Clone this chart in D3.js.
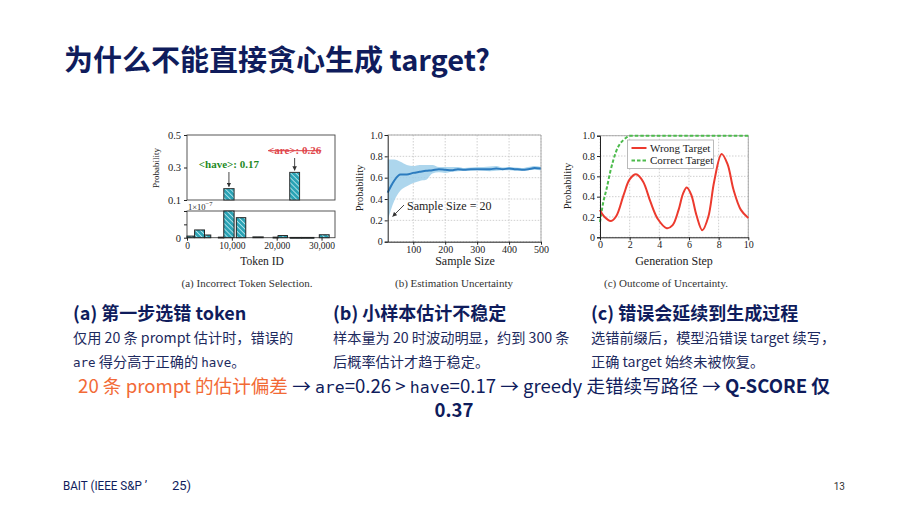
<!DOCTYPE html>
<html>
<head>
    <title>为什么不能直接贪心生成 target?</title>
    <script src="https://d3js.org/d3.v7.min.js"></script>
    <style>
        html, body { margin: 0; padding: 0; background: #fff; }
        svg { display: block; }
        .serif { font-family: "Liberation Serif", "DejaVu Serif", serif; }
    </style>
</head>
<body>
    <svg id="slide"></svg>
    <script>
        // ---- data ----
        // (a) token histogram, top panel (probability) and bottom panel (x 1e-7)
        const topBarStart = [8200, 22900];
        const topBarEnd = [10500, 25100];
        const topBarValue = [0.17, 0.27];
        const topTicks = [0.1, 0.3, 0.5];

        const lowBarStart = [0, 1700, 3900, 7000, 8200, 11000, 14700, 19200, 20300, 23000, 25600, 29500];
        const lowBarEnd = [1600, 3900, 5300, 8200, 10500, 13100, 17000, 20300, 22400, 25500, 28300, 31700];
        const lowBarValue = [0.06, 0.29, 0.10, 0.02, 1.0, 0.75, 0.03, 0.02, 0.08, 0.01, 0.01, 0.11];
        const tokenTicks = [0, 10000, 20000, 30000];

        // (b) estimation uncertainty
        const sampleSizes = [20, 40, 60, 80, 100, 120, 140, 160, 180, 200, 220, 240, 260, 280, 300, 320, 340, 360, 380, 400, 420, 440, 460, 480, 500];
        const meanProb = [0.46, 0.57, 0.63, 0.63, 0.645, 0.655, 0.665, 0.67, 0.68, 0.675, 0.67, 0.68, 0.675, 0.68, 0.68, 0.68, 0.68, 0.685, 0.68, 0.685, 0.68, 0.675, 0.68, 0.69, 0.685];
        const bandUpper = [0.77, 0.77, 0.75, 0.72, 0.71, 0.72, 0.72, 0.72, 0.70, 0.70, 0.70, 0.70, 0.69, 0.695, 0.70, 0.70, 0.705, 0.71, 0.695, 0.70, 0.695, 0.69, 0.70, 0.71, 0.70];
        const bandLower = [0.20, 0.38, 0.48, 0.52, 0.55, 0.57, 0.58, 0.64, 0.65, 0.645, 0.655, 0.66, 0.665, 0.665, 0.67, 0.665, 0.66, 0.665, 0.67, 0.67, 0.665, 0.665, 0.67, 0.675, 0.67];
        const sampleTicks = [100, 200, 300, 400, 500];
        const probTicksB = [0, 0.2, 0.4, 0.6, 0.8, 1.0];

        // (c) outcome of uncertainty
        const wrongSteps = [0, 0.25, 0.74, 1.1, 1.6, 2.0, 2.43, 2.9, 3.4, 3.9, 4.5, 4.9, 5.3, 5.6, 5.85, 6.15, 6.5, 6.9, 7.3, 7.7, 8.2, 8.6, 9.0, 9.5, 10];
        const wrongProb = [0.27, 0.21, 0.16, 0.21, 0.42, 0.57, 0.62, 0.55, 0.35, 0.18, 0.09, 0.12, 0.27, 0.43, 0.49, 0.42, 0.22, 0.07, 0.2, 0.55, 0.82, 0.72, 0.47, 0.27, 0.19];
        const correctSteps = [0, 0.2, 0.45, 0.7, 0.9, 1.1, 1.35, 1.6, 1.8, 2.0, 3, 4, 5, 6, 7, 8, 9, 10];
        const correctProb = [0.15, 0.33, 0.48, 0.65, 0.76, 0.85, 0.92, 0.96, 0.985, 1, 1, 1, 1, 1, 1, 1, 1, 1];
        const stepTicks = [0, 2, 4, 6, 8, 10];
        const probTicksC = [0, 0.2, 0.4, 0.6, 0.8, 1.0];
        const legendLabels = ["Wrong Target", "Correct Target"];

        const W = 908, H = 511;
        const navy = "#0f1c5c";
        const svg = d3.select("#slide").attr("width", W).attr("height", H)
            .attr("viewBox", [0, 0, W, H]);

        const defs = svg.append("defs");
        const pat = defs.append("pattern").attr("id", "hatch")
            .attr("width", 3.6).attr("height", 3.6)
            .attr("patternUnits", "userSpaceOnUse")
            .attr("patternTransform", "rotate(-45)");
        pat.append("rect").attr("width", 3.6).attr("height", 3.6).attr("fill", "#2aa3b5");
        pat.append("line").attr("x1", 0).attr("y1", 0).attr("x2", 0).attr("y2", 3.6)
            .attr("stroke", "#e8fbff").attr("stroke-width", 1.3);
        defs.append("marker").attr("id", "arr")
            .attr("viewBox", "0 0 10 10").attr("refX", 9).attr("refY", 5)
            .attr("markerWidth", 5).attr("markerHeight", 5).attr("orient", "auto")
            .append("path").attr("d", "M0,0L10,5L0,10z").attr("fill", "#333");

        // ---- title ----
        svg.append("text").attr("x", 64).attr("y", 71)
            .attr("font-family", "'Noto Sans CJK SC', 'Noto Sans', sans-serif")
            .attr("font-weight", 700).attr("font-size", 29).attr("fill", navy)
            .text("为什么不能直接贪心生成 target?");

        function styleAxis(g, size) {
            g.selectAll("text").attr("class", "serif").attr("font-family", null)
                .attr("font-size", size).attr("fill", "#222");
            g.selectAll("line").attr("stroke", "#222");
            g.select(".domain").attr("stroke", "#222");
        }

        // ---- (a) Incorrect Token Selection ----
        const xa = d3.scaleLinear().domain([0, 33000]).range([187, 335]);
        const yTop = d3.scaleLinear().domain([0.1, 0.5]).range([200, 135]);
        const yLow = d3.scaleLinear().domain([0, 1]).range([237.7, 211]);
        const ga = svg.append("g");

        ga.append("rect").attr("x", 187).attr("y", 135).attr("width", 148).attr("height", 65)
            .attr("fill", "none").attr("stroke", "#444").attr("stroke-width", 0.9);
        ga.append("rect").attr("x", 187).attr("y", 211).attr("width", 148).attr("height", 26.7)
            .attr("fill", "none").attr("stroke", "#444").attr("stroke-width", 0.9);

        ga.selectAll("rect.tb").data(topBarValue).join("rect").attr("class", "tb")
            .attr("x", (d, i) => xa(topBarStart[i]))
            .attr("width", (d, i) => xa(topBarEnd[i]) - xa(topBarStart[i]))
            .attr("y", d => yTop(d)).attr("height", d => yTop(0.1) - yTop(d))
            .attr("fill", "url(#hatch)").attr("stroke", "#333").attr("stroke-width", 1);
        ga.selectAll("rect.lb").data(lowBarValue).join("rect").attr("class", "lb")
            .attr("x", (d, i) => xa(lowBarStart[i]))
            .attr("width", (d, i) => xa(lowBarEnd[i]) - xa(lowBarStart[i]))
            .attr("y", d => yLow(d)).attr("height", d => Math.max(0.8, yLow(0) - yLow(d)))
            .attr("fill", "url(#hatch)").attr("stroke", "#222").attr("stroke-width", 1);

        const aTop = ga.append("g").attr("transform", "translate(187,0)")
            .call(d3.axisLeft(yTop).tickValues(topTicks).tickFormat(d3.format(".1f")).tickSize(3).tickPadding(3));
        styleAxis(aTop, 10.5);
        aTop.select(".domain").remove();
        const aLow = ga.append("g").attr("transform", "translate(187,0)")
            .call(d3.axisLeft(yLow).tickValues([0, 0.5, 1]).tickFormat(d => d === 0 ? "0" : "").tickSize(3).tickPadding(3));
        styleAxis(aLow, 10.5);
        aLow.select(".domain").remove();
        // matplotlib-style offset text sitting in the gap above the lower panel
        ga.append("text").attr("class", "serif").attr("x", 188).attr("y", 209.5)
            .attr("font-size", 8.5).attr("fill", "#222")
            .html('1×10<tspan dy="-3.5" font-size="6.5">−7</tspan>');
        const aX = ga.append("g").attr("transform", "translate(0,237.7)")
            .call(d3.axisBottom(xa).tickValues(tokenTicks).tickFormat(d3.format(",")).tickSize(3).tickPadding(2));
        styleAxis(aX, 9.5);
        aX.select(".domain").remove();

        ga.append("text").attr("class", "serif").attr("transform", "translate(159,168) rotate(-90)")
            .attr("text-anchor", "middle").attr("font-size", 9).attr("fill", "#222").text("Probability");
        ga.append("text").attr("class", "serif").attr("x", 262).attr("y", 265)
            .attr("text-anchor", "middle").attr("font-size", 11.5).attr("fill", "#222").text("Token ID");
        ga.append("text").attr("class", "serif").attr("x", 247).attr("y", 287)
            .attr("text-anchor", "middle").attr("font-size", 11).attr("fill", "#333").text("(a) Incorrect Token Selection.");

        const haveX = (xa(topBarStart[0]) + xa(topBarEnd[0])) / 2;
        const areX = (xa(topBarStart[1]) + xa(topBarEnd[1])) / 2;
        ga.append("text").attr("class", "serif").attr("x", haveX).attr("y", 168)
            .attr("text-anchor", "middle").attr("font-size", 11).attr("font-weight", 700)
            .attr("fill", "#1f8a1f").text("<have>: 0.17");
        ga.append("line").attr("x1", haveX).attr("x2", haveX).attr("y1", 172).attr("y2", yTop(topBarValue[0]) - 2)
            .attr("stroke", "#333").attr("stroke-width", 0.9).attr("marker-end", "url(#arr)");
        ga.append("text").attr("class", "serif").attr("x", areX).attr("y", 154)
            .attr("text-anchor", "middle").attr("font-size", 11).attr("font-weight", 700)
            .attr("fill", "#e0474c").attr("text-decoration", "line-through").text("<are>: 0.26");
        ga.append("line").attr("x1", areX).attr("x2", areX).attr("y1", 158).attr("y2", yTop(topBarValue[1]) - 2)
            .attr("stroke", "#333").attr("stroke-width", 0.9).attr("marker-end", "url(#arr)");

        // ---- (b) Estimation Uncertainty ----
        const xb = d3.scaleLinear().domain([20, 500]).range([387.7, 541]);
        const yb = d3.scaleLinear().domain([0, 1]).range([241.7, 135]);
        const gb = svg.append("g");
        gb.selectAll("line.gx").data(sampleTicks).join("line").attr("class", "gx")
            .attr("x1", d => xb(d)).attr("x2", d => xb(d)).attr("y1", 135).attr("y2", 241.7)
            .attr("stroke", "#bbb").attr("stroke-width", 0.7).attr("stroke-dasharray", "1.5,1.5");
        gb.selectAll("line.gy").data(probTicksB).join("line").attr("class", "gy")
            .attr("x1", 387.7).attr("x2", 541).attr("y1", d => yb(d)).attr("y2", d => yb(d))
            .attr("stroke", "#bbb").attr("stroke-width", 0.7).attr("stroke-dasharray", "1.5,1.5");
        gb.append("path").datum(sampleSizes)
            .attr("d", d3.area().x(d => xb(d)).y0((d, i) => yb(bandLower[i])).y1((d, i) => yb(bandUpper[i])).curve(d3.curveMonotoneX))
            .attr("fill", "#9fcfea").attr("opacity", 0.85);
        gb.append("path").datum(sampleSizes)
            .attr("d", d3.line().x(d => xb(d)).y((d, i) => yb(meanProb[i])).curve(d3.curveMonotoneX))
            .attr("fill", "none").attr("stroke", "#2c7cbf").attr("stroke-width", 2);
        gb.append("path").attr("d", `M387.7,135H541V241.7`).attr("fill", "none").attr("stroke", "#999").attr("stroke-width", 0.8);
        const bY = gb.append("g").attr("transform", "translate(387.7,0)")
            .call(d3.axisLeft(yb).tickValues(probTicksB).tickFormat(d => d === 0 ? "0" : d3.format(".1f")(d)).tickSize(3).tickPadding(2));
        styleAxis(bY, 10);
        const bX = gb.append("g").attr("transform", "translate(0,241.7)")
            .call(d3.axisBottom(xb).tickValues(sampleTicks).tickSize(3).tickPadding(1).tickSizeOuter(0));
        styleAxis(bX, 10);
        gb.append("text").attr("class", "serif").attr("transform", "translate(363,188) rotate(-90)")
            .attr("text-anchor", "middle").attr("font-size", 10.5).attr("fill", "#222").text("Probability");
        gb.append("text").attr("class", "serif").attr("x", 465).attr("y", 265)
            .attr("text-anchor", "middle").attr("font-size", 12).attr("fill", "#222").text("Sample Size");
        gb.append("text").attr("class", "serif").attr("x", 454).attr("y", 287)
            .attr("text-anchor", "middle").attr("font-size", 11).attr("fill", "#333").text("(b) Estimation Uncertainty");
        gb.append("text").attr("class", "serif").attr("x", 407).attr("y", 210)
            .attr("font-size", 12).attr("fill", "#222").text("Sample Size = 20");
        gb.append("line").attr("x1", 404).attr("y1", 205).attr("x2", xb(20) + 5).attr("y2", yb(bandLower[0]) - 4)
            .attr("stroke", "#333").attr("stroke-width", 0.9).attr("marker-end", "url(#arr)");

        // ---- (c) Outcome of Uncertainty ----
        const xc = d3.scaleLinear().domain([0, 10]).range([600, 748.3]);
        const yc = d3.scaleLinear().domain([0, 1]).range([237.3, 135.7]);
        const gc = svg.append("g");
        gc.selectAll("line.gx").data(stepTicks).join("line").attr("class", "gx")
            .attr("x1", d => xc(d)).attr("x2", d => xc(d)).attr("y1", 135.7).attr("y2", 237.3)
            .attr("stroke", "#bbb").attr("stroke-width", 0.7).attr("stroke-dasharray", "1.5,1.5");
        gc.selectAll("line.gy").data(probTicksC).join("line").attr("class", "gy")
            .attr("x1", 600).attr("x2", 748.3).attr("y1", d => yc(d)).attr("y2", d => yc(d))
            .attr("stroke", "#bbb").attr("stroke-width", 0.7).attr("stroke-dasharray", "1.5,1.5");
        gc.append("path").attr("d", `M600,135.7H748.3V237.3`).attr("fill", "none").attr("stroke", "#999").attr("stroke-width", 0.8);
        gc.append("path").datum(correctSteps)
            .attr("d", d3.line().x(d => xc(d)).y((d, i) => yc(correctProb[i])).curve(d3.curveMonotoneX))
            .attr("fill", "none").attr("stroke", "#4cbb4c").attr("stroke-width", 2).attr("stroke-dasharray", "3.5,2");
        gc.append("path").datum(wrongSteps)
            .attr("d", d3.line().x(d => xc(d)).y((d, i) => yc(wrongProb[i])).curve(d3.curveCatmullRom.alpha(0.5)))
            .attr("fill", "none").attr("stroke", "#ec3a2e").attr("stroke-width", 2);
        const cY = gc.append("g").attr("transform", "translate(600,0)")
            .call(d3.axisLeft(yc).tickValues(probTicksC).tickFormat(d => d === 0 ? "0" : d3.format(".1f")(d)).tickSize(3).tickPadding(2));
        styleAxis(cY, 10);
        const cX = gc.append("g").attr("transform", "translate(0,237.3)")
            .call(d3.axisBottom(xc).tickValues(stepTicks).tickSize(3).tickPadding(1).tickSizeOuter(0));
        styleAxis(cX, 10);
        gc.append("text").attr("class", "serif").attr("transform", "translate(571,186) rotate(-90)")
            .attr("text-anchor", "middle").attr("font-size", 10.5).attr("fill", "#222").text("Probability");
        gc.append("text").attr("class", "serif").attr("x", 674).attr("y", 265)
            .attr("text-anchor", "middle").attr("font-size", 12).attr("fill", "#222").text("Generation Step");
        gc.append("text").attr("class", "serif").attr("x", 666).attr("y", 287)
            .attr("text-anchor", "middle").attr("font-size", 11).attr("fill", "#333").text("(c) Outcome of Uncertainty.");

        const lg = gc.append("g").attr("transform", "translate(627.5,140)");
        lg.append("rect").attr("width", 86).attr("height", 28.5).attr("fill", "#fff")
            .attr("stroke", "#aaa").attr("stroke-width", 0.8);
        const legColors = ["#ec3a2e", "#4cbb4c"];
        const legDash = [null, "3.5,2"];
        legendLabels.forEach((lab, i) => {
            lg.append("line").attr("x1", 4).attr("x2", 19).attr("y1", 8 + i * 12.5).attr("y2", 8 + i * 12.5)
                .attr("stroke", legColors[i]).attr("stroke-width", 2).attr("stroke-dasharray", legDash[i]);
            lg.append("text").attr("class", "serif").attr("x", 22.5).attr("y", 11.5 + i * 12.5)
                .attr("font-size", 11).attr("fill", "#222").text(lab);
        });

        // ---- text blocks under the figures ----
        const cjk = "'Noto Sans CJK SC', 'Noto Sans', sans-serif";
        const blocks = [
            { x: 73, head: "(a) 第一步选错 token", lines: [["仅用 20 条 prompt 估计时，错误的"], [["are", true], " 得分高于正确的 ", ["have", true], "。"]] },
            { x: 333, head: "(b) 小样本估计不稳定", lines: [["样本量为 20 时波动明显，约到 300 条"], ["后概率估计才趋于稳定。"]] },
            { x: 591, head: "(c) 错误会延续到生成过程", lines: [["选错前缀后，模型沿错误 target 续写，"], ["正确 target 始终未被恢复。"]] }
        ];
        blocks.forEach(b => {
            svg.append("text").attr("x", b.x).attr("y", 320).attr("font-family", cjk)
                .attr("font-weight", 700).attr("font-size", 18).attr("fill", navy).text(b.head);
            b.lines.forEach((ln, j) => {
                const t = svg.append("text").attr("x", b.x).attr("y", 343 + j * 24)
                    .attr("font-family", cjk).attr("font-size", 14.2).attr("fill", "#1d2a5e");
                ln.forEach(part => {
                    if (Array.isArray(part)) {
                        t.append("tspan").attr("font-family", "'DejaVu Sans Mono', monospace").attr("font-size", 12.5).text(part[0]);
                    } else {
                        t.append("tspan").text(part);
                    }
                });
            });
        });

        const summary = svg.append("text").attr("x", 454).attr("y", 393).attr("text-anchor", "middle")
            .attr("font-family", cjk).attr("font-size", 18.6).attr("fill", navy);
        summary.append("tspan").attr("fill", "#f26a36").text("20 条 prompt 的估计偏差");
        summary.append("tspan").text(" → ");
        summary.append("tspan").attr("font-family", "'DejaVu Sans Mono', monospace").attr("font-size", 16.5).text("are");
        summary.append("tspan").text("=0.26 > ");
        summary.append("tspan").attr("font-family", "'DejaVu Sans Mono', monospace").attr("font-size", 16.5).text("have");
        summary.append("tspan").text("=0.17 → greedy 走错续写路径 → ");
        summary.append("tspan").attr("font-weight", 700).text("Q-SCORE 仅");
        svg.append("text").attr("x", 454).attr("y", 417).attr("text-anchor", "middle")
            .attr("font-family", cjk).attr("font-size", 18.6).attr("font-weight", 700).attr("fill", navy).text("0.37");

        // ---- footer ----
        svg.append("text").attr("x", 63).attr("y", 490).attr("font-family", "'Roboto', 'Noto Sans', sans-serif")
            .attr("font-size", 13).attr("fill", navy)
            .attr("textLength", 84).attr("lengthAdjust", "spacingAndGlyphs")
            .text("BAIT (IEEE S&P ’");
        svg.append("text").attr("x", 172).attr("y", 490).attr("font-family", "'Roboto', 'Noto Sans', sans-serif")
            .attr("font-size", 13).attr("fill", navy).text("25)");
        svg.append("text").attr("x", 845).attr("y", 490).attr("text-anchor", "end").attr("font-family", "'Roboto', sans-serif")
            .attr("font-size", 10).attr("fill", "#333").text("13");
    </script>
</body>
</html>
